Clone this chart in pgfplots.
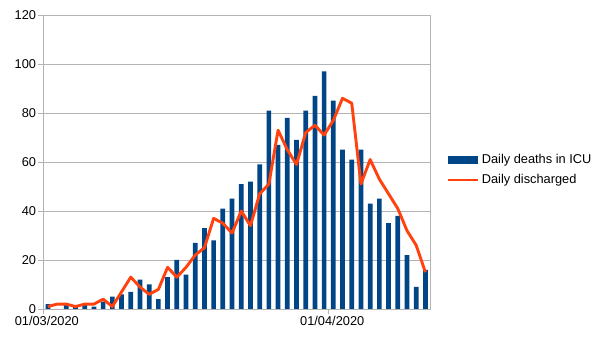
\documentclass[border=0pt]{standalone}
\usepackage{fontspec}
\setmainfont{Liberation Sans}
\usepackage{pgfplots}
\pgfplotsset{compat=1.18}
\definecolor{barc}{HTML}{004586}
\definecolor{linec}{HTML}{FF420E}
\definecolor{gridc}{HTML}{B3B3B3}
\begin{document}
\begin{tikzpicture}
\path[use as bounding box] (0,0) rectangle (605bp,340bp);
\begin{axis}[
 at={(43.3bp,31bp)}, anchor=south west,
 scale only axis, width=386.7bp, height=294bp,
 xmin=-0.5, xmax=41.5, ymin=0, ymax=120,
 ytick={0,20,...,120},
 xtick={-0.5,30.5}, xticklabels={01/03/2020,01/04/2020},
 tick pos=left, tick align=outside, major tick length=5bp,
 tick style={gridc, line width=0.8bp},
 axis line style={gridc, line width=0.8bp},
 ymajorgrids, grid style={gridc, line width=0.8bp},
 ticklabel style={font=\fontsize{12.8bp}{15bp}\selectfont, text=black},
 yticklabel style={inner sep=2bp},
 xticklabel style={xshift=3.5bp, inner sep=2bp},
 /pgf/number format/assume math mode=true,
 legend style={at={(1.042,0.473)}, anchor=west, draw=none, fill=none, inner sep=0pt,
   font=\fontsize{12.8bp}{15bp}\selectfont, row sep=3bp,
   nodes={inner sep=3bp}},
 legend cell align=left,
]
\addplot[ybar, bar width=4.7bp, fill=barc, draw=none,
  legend image code/.code={\fill[barc] (0bp,-3.8bp) rectangle (30bp,3.8bp);}]
coordinates {
(0,2)(1,0)(2,2)(3,1)(4,2)(5,1)(6,3)(7,5)(8,6)(9,7)
(10,12)(11,10)(12,4)(13,13)(14,20)(15,14)(16,27)(17,33)(18,28)(19,41)
(20,45)(21,51)(22,52)(23,59)(24,81)(25,67)(26,78)(27,69)(28,81)(29,87)
(30,97)(31,85)(32,65)(33,61)(34,65)(35,43)(36,45)(37,35)(38,38)(39,22)
(40,9)(41,16)};
\addlegendentry{Daily deaths in ICU}
\addplot[linec, line width=2.9bp, line join=round, mark=none,
  legend image code/.code={\draw[linec, line width=2.4bp] (0bp,0bp) -- (30bp,0bp);}]
coordinates {
(0,1)(1,2)(2,2)(3,1)(4,2)(5,2)(6,4)(7,1)(8,7)(9,13)
(10,9)(11,6)(12,8)(13,17)(14,13)(15,17)(16,22)(17,25)(18,37)(19,35)
(20,31)(21,40)(22,34)(23,47)(24,51)(25,73)(26,65)(27,59)(28,72)(29,75)
(30,71)(31,77)(32,86)(33,84)(34,51)(35,61)(36,53)(37,47)(38,41)(39,32)
(40,26)(41,15)};
\addlegendentry{Daily discharged}
\end{axis}
\end{tikzpicture}
\end{document}
